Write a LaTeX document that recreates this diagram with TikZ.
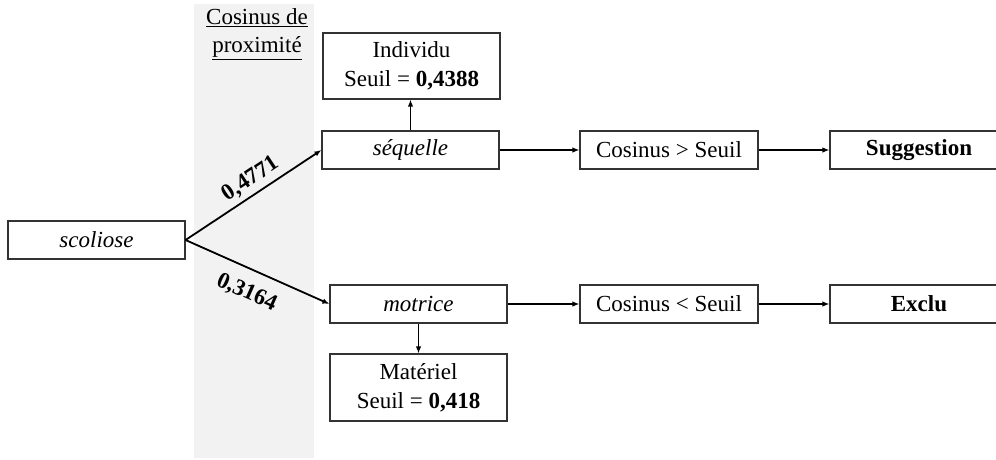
\documentclass[tikz,border=0pt]{standalone}
\usepackage{fontspec}
\setmainfont{Liberation Serif}
\usetikzlibrary{arrows.meta}
\begin{document}
\begin{tikzpicture}[x=1pt,y=-1pt,
  box/.style={draw=black!80,line width=1.1pt,minimum width=177pt,inner sep=0pt,align=center,font=\fontsize{23}{29}\selectfont},
  sbox/.style={box,minimum height=38pt},
  tbox/.style={box,minimum height=66pt},
  conn/.style={line width=1.8pt,-{Latex[length=7pt,width=5.5pt]}},
  lab/.style={font=\fontsize{23}{28}\selectfont\bfseries,inner sep=1pt,sloped}]
\useasboundingbox (0,0) rectangle (996,459);
\fill[black!5] (194,4) rectangle (314,458);
\node[font=\fontsize{23}{28}\selectfont,align=center] (title) at (257,34) {\underline{Cosinus de}\\\underline{proximité}};
\node[sbox] (sco) at (96.5,240) {\itshape scoliose};
\node[sbox] (seq) at (410.5,150) {\itshape séquelle};
\node[tbox] (ind) at (411.5,66) {Individu\\Seuil = \textbf{0,4388}};
\node[sbox] (mot) at (418.5,304) {\itshape motrice};
\node[tbox,minimum height=67pt] (mat) at (418.5,387.5) {Matériel\\Seuil = \textbf{0,418}};
\node[sbox,minimum width=178pt] (sup) at (669,150) {Cosinus > Seuil};
\node[sbox,minimum width=178pt] (inf) at (669,304) {Cosinus < Seuil};
\node[sbox,minimum width=178pt] (sug) at (919,150) {\bfseries Suggestion};
\node[sbox,minimum width=178pt] (exc) at (919,304) {\bfseries Exclu};
\draw[conn] (sco.east) -- node[lab,above=3.5pt,pos=0.54] {0,4771} (seq.west);
\draw[conn] (sco.east) -- node[lab,below=12pt,pos=0.49] {0,3164} (mot.west);
\draw[conn] (seq.north) -- (seq.north |- ind.south);
\draw[conn] (mot.south) -- (mot.south |- mat.north);
\draw[conn] (seq.east) -- (sup.west);
\draw[conn] (sup.east) -- (sug.west);
\draw[conn] (mot.east) -- (inf.west);
\draw[conn] (inf.east) -- (exc.west);
\end{tikzpicture}
\end{document}
